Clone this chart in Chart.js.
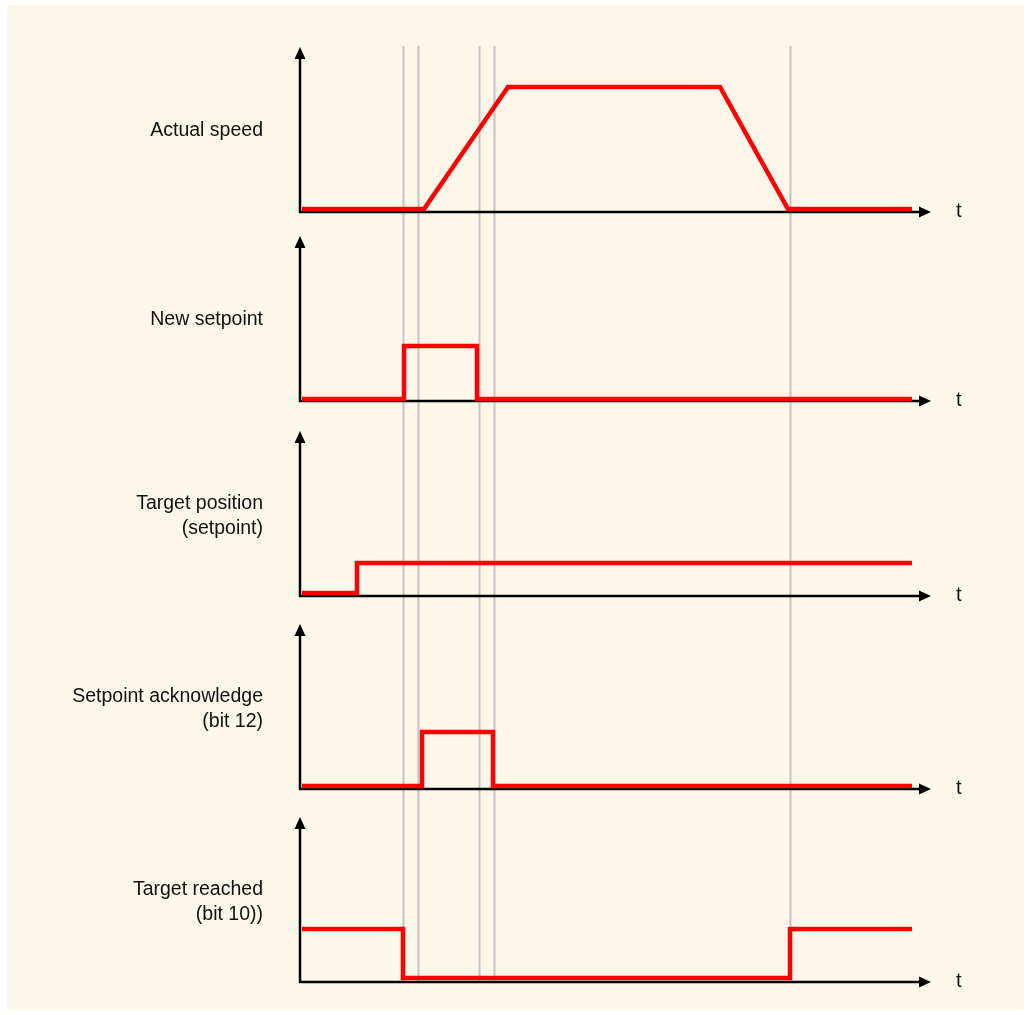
<!DOCTYPE html>
<html>
<head>
<meta charset="utf-8">
<script src="https://cdn.jsdelivr.net/npm/chart.js@4.4.1/dist/chart.umd.min.js"></script>
<style>
    body { margin: 0; background: #ffffff; }
    #frame { position: absolute; left: 7px; top: 5px; width: 1017px; height: 1005px; background: #fdf7ea; }
    #chart { position: absolute; left: 0; top: 0; }
</style>
</head>
<body>
<div id="frame"></div>
<canvas id="chart" width="1031" height="1015"></canvas>
<script>
// signal names (left side labels)
const signalNames = [
    ['Actual speed'],
    ['New setpoint'],
    ['Target position', '(setpoint)'],
    ['Setpoint acknowledge', '(bit 12)'],
    ['Target reached', '(bit 10))']
]

// time points and levels for each trace (time 0..630, level 0 = axis)
const speedT = [2, 124, 208, 420, 488, 612]
const speedV = [3, 3, 125, 125, 3, 3]

const newSetpointT = [2, 104, 104, 177, 177, 612]
const newSetpointV = [2, 2, 55, 55, 2, 2]

const targetPosT = [2, 57, 57, 612]
const targetPosV = [3, 3, 33, 33]

const ackT = [2, 122, 122, 193, 193, 612]
const ackV = [3, 3, 57, 57, 3, 3]

const reachedT = [2, 103, 103, 490, 490, 612]
const reachedV = [53, 53, 4, 4, 53, 53]

// grey marker lines
const markerT = [103, 118, 179, 194, 490]

const tMax = 630
const yTip = 164
const slotSizes = [195, 189, 195, 193, 193]

function toPoints(ts, vs) {
    const pts = []
    for (let i = 0; i < ts.length; i++) {
        pts.push({ x: ts[i], y: vs[i] })
    }
    return pts
}

const traces = [
    toPoints(speedT, speedV),
    toPoints(newSetpointT, newSetpointV),
    toPoints(targetPosT, targetPosV),
    toPoints(ackT, ackV),
    toPoints(reachedT, reachedV)
]

const datasets = traces.map(function (pts, i) {
    return {
        data: pts,
        xAxisID: 'x',
        yAxisID: 'y' + i,
        borderColor: '#ff0000',
        borderWidth: 4.5,
        borderJoinStyle: 'miter',
        borderCapStyle: 'butt',
        pointRadius: 0,
        tension: 0,
        fill: false
    }
})

const scales = {
    x: { type: 'linear', min: 0, max: tMax, display: false }
}
slotSizes.forEach(function (s, i) {
    scales['y' + i] = {
        type: 'linear',
        position: 'left',
        stack: 'panels',
        stackWeight: s,
        weight: 10 - i,
        min: -3,
        max: s - 3,
        display: false
    }
})

const axesPlugin = {
    id: 'timingAxes',
    beforeDatasetsDraw(chart) {
        const ctx = chart.ctx
        const xs = chart.scales.x
        const x0 = xs.getPixelForValue(0)
        const xEnd = xs.getPixelForValue(tMax)
        ctx.save()

        // grey marker lines across all panels
        const top = chart.scales.y0.getPixelForValue(yTip) - 2
        const bottom = chart.scales.y4.getPixelForValue(0)
        ctx.strokeStyle = '#c4c4c4'
        ctx.lineWidth = 2
        for (const t of markerT) {
            const px = Math.round(xs.getPixelForValue(t)) + 0.5
            ctx.beginPath()
            ctx.moveTo(px, top)
            ctx.lineTo(px, bottom)
            ctx.stroke()
        }

        for (let i = 0; i < signalNames.length; i++) {
            const ys = chart.scales['y' + i]
            const yAxis = ys.getPixelForValue(0)
            const yTop = ys.getPixelForValue(yTip)

            ctx.strokeStyle = '#000000'
            ctx.fillStyle = '#000000'
            ctx.lineWidth = 2.5
            ctx.beginPath()
            ctx.moveTo(x0, yAxis + 1)
            ctx.lineTo(x0, yTop + 8)
            ctx.moveTo(x0 - 1, yAxis)
            ctx.lineTo(xEnd - 9, yAxis)
            ctx.stroke()

            // arrow heads
            ctx.beginPath()
            ctx.moveTo(x0, yTop - 1)
            ctx.lineTo(x0 - 5.5, yTop + 11)
            ctx.lineTo(x0 + 5.5, yTop + 11)
            ctx.closePath()
            ctx.fill()
            ctx.beginPath()
            ctx.moveTo(xEnd + 1, yAxis)
            ctx.lineTo(xEnd - 11, yAxis - 5.5)
            ctx.lineTo(xEnd - 11, yAxis + 5.5)
            ctx.closePath()
            ctx.fill()

            // t label
            ctx.font = '20px "Liberation Sans", Arial, sans-serif'
            ctx.textAlign = 'left'
            ctx.textBaseline = 'middle'
            ctx.fillStyle = '#111111'
            ctx.fillText('t', xEnd + 26, yAxis - 1)

            // signal name
            ctx.font = '19.5px "Liberation Sans", Arial, sans-serif'
            ctx.textAlign = 'right'
            const lines = signalNames[i]
            if (lines.length === 1) {
                ctx.fillText(lines[0], x0 - 37, yAxis - 81)
            } else {
                ctx.fillText(lines[0], x0 - 37, yAxis - 92)
                ctx.fillText(lines[1], x0 - 37, yAxis - 67)
            }
        }
        ctx.restore()
    }
}

new Chart(document.querySelector('#chart').getContext('2d'), {
    type: 'line',
    data: { datasets: datasets },
    options: {
        responsive: false,
        animation: false,
        layout: { padding: { left: 300, right: 101, top: 20, bottom: 30 } },
        scales: scales,
        plugins: {
            legend: { display: false },
            tooltip: { enabled: false }
        }
    },
    plugins: [axesPlugin]
})
</script>
</body>
</html>
